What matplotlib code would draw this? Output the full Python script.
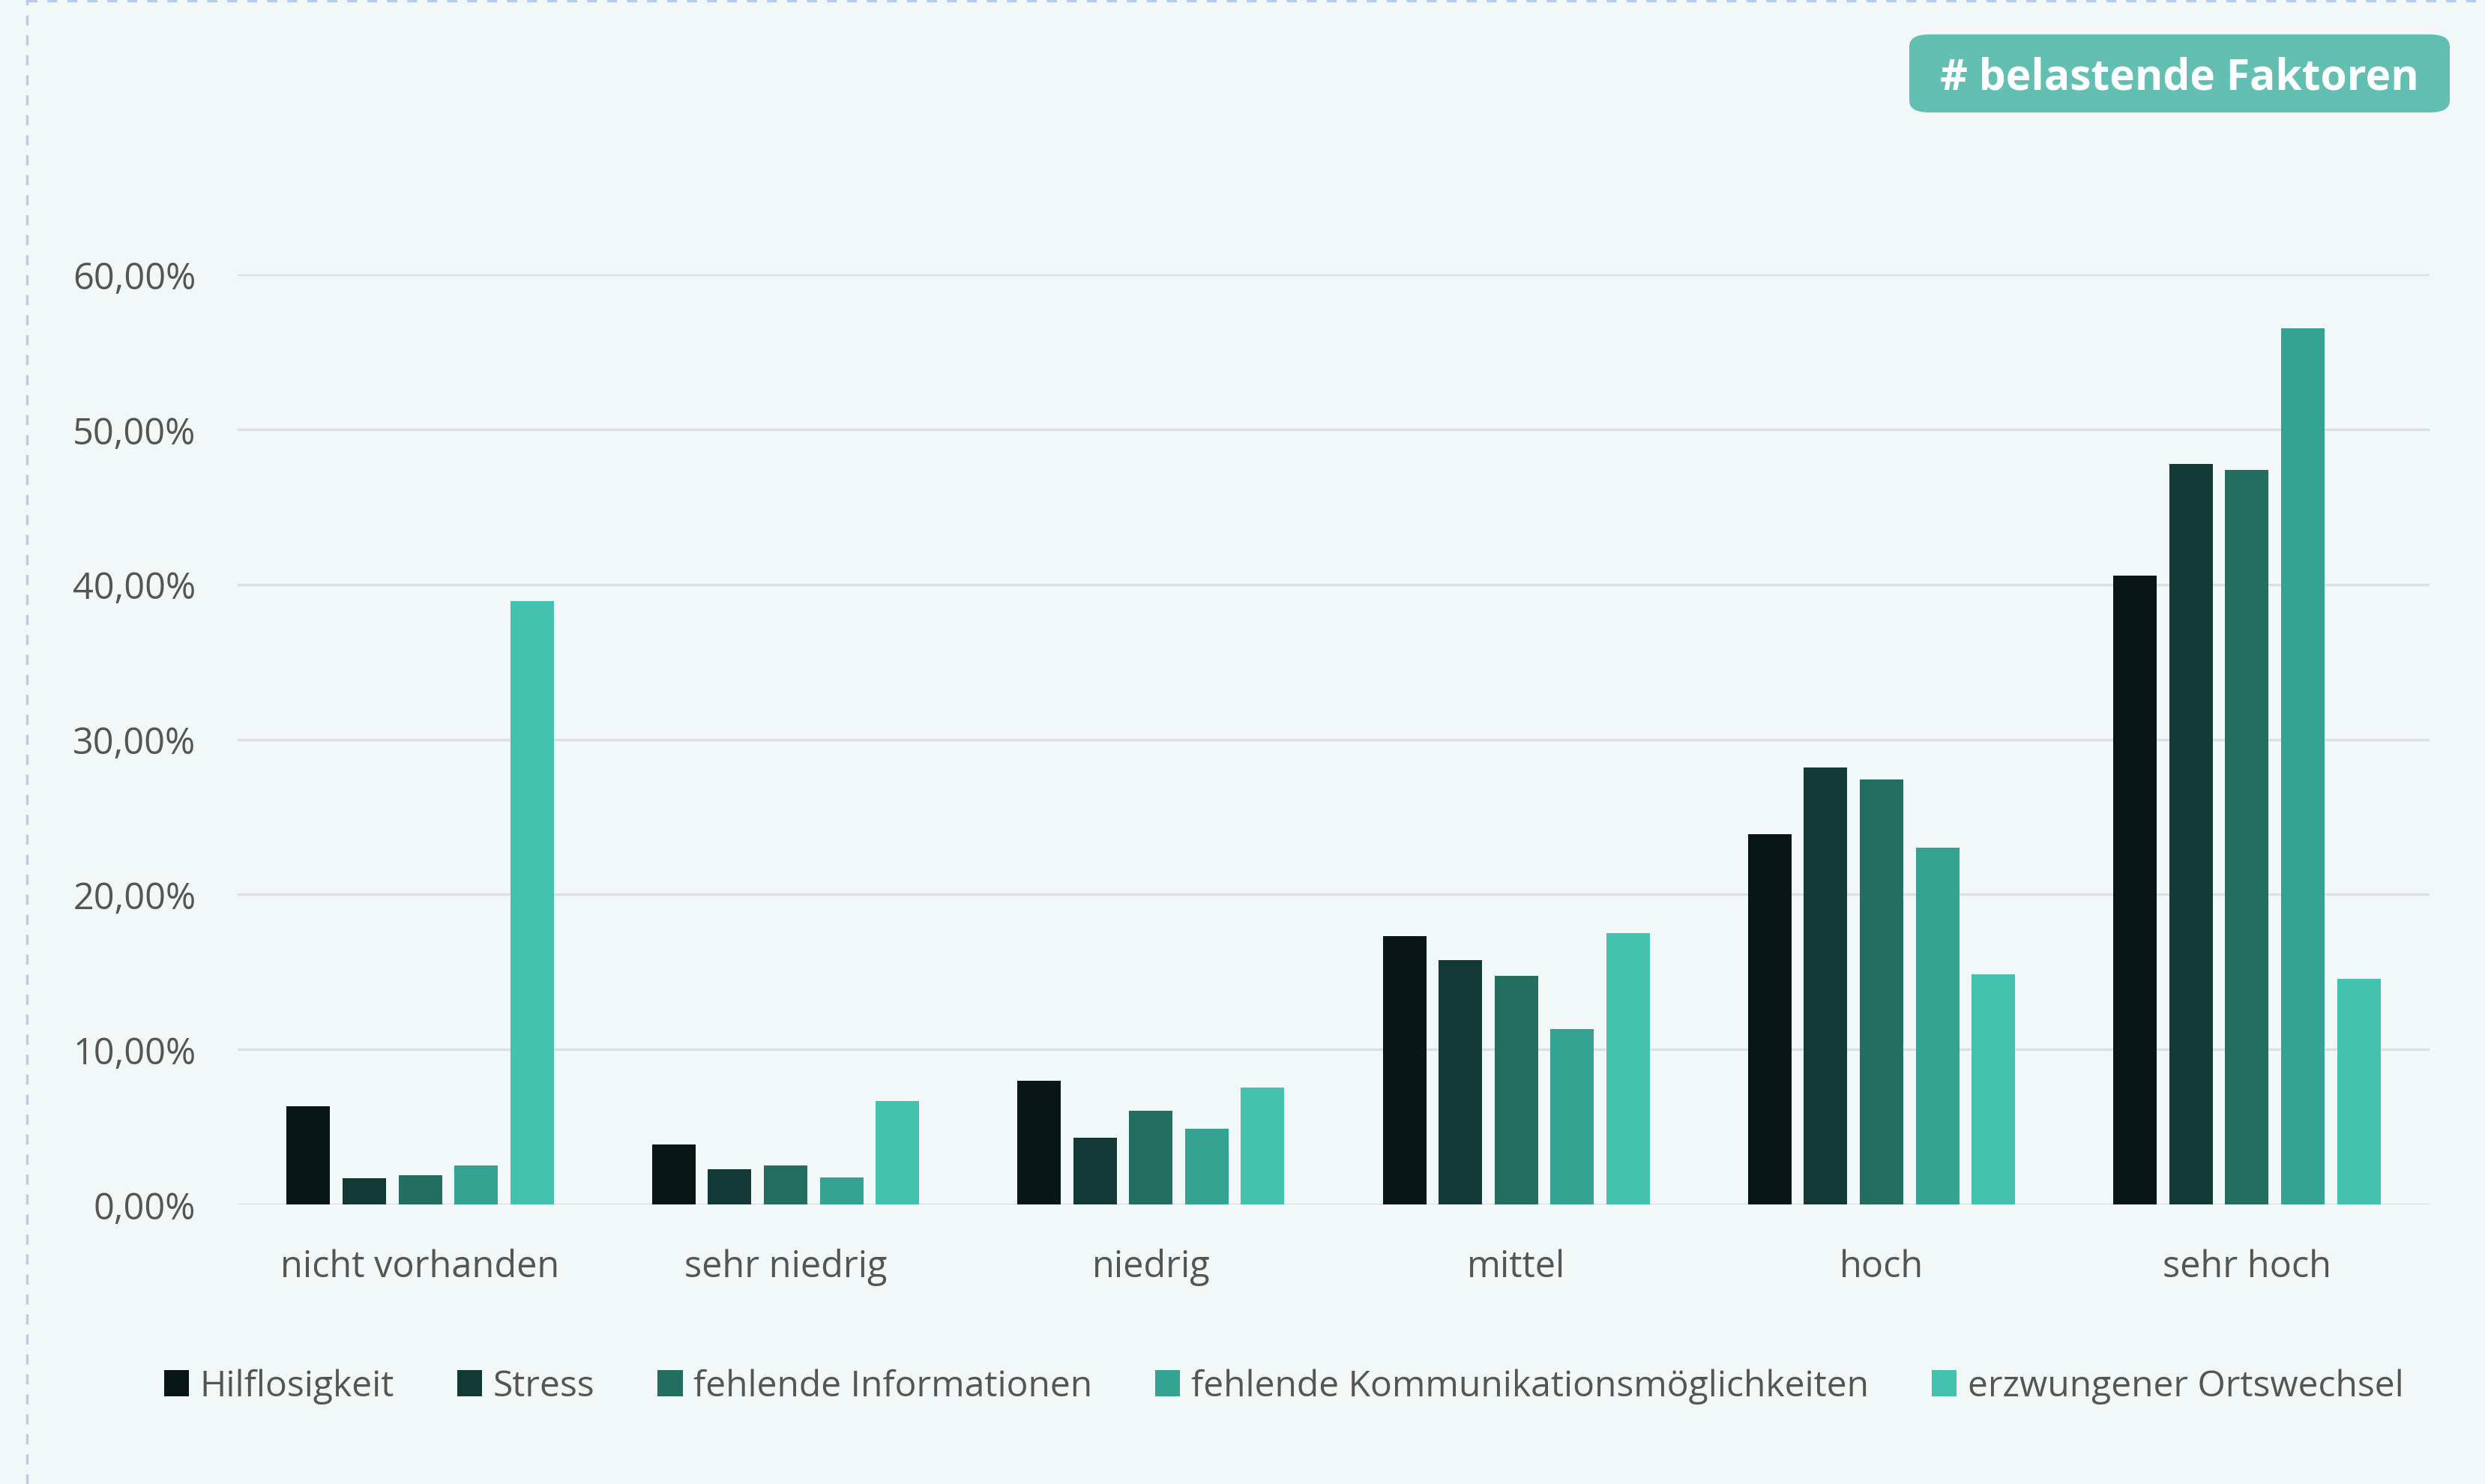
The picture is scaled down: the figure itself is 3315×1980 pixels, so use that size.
import matplotlib
matplotlib.use("Agg")
import matplotlib.pyplot as plt
import numpy as np
from matplotlib.patches import FancyBboxPatch
from matplotlib.ticker import FuncFormatter

categories = ["nicht vorhanden", "sehr niedrig", "niedrig", "mittel", "hoch", "sehr hoch"]
series = ["Hilflosigkeit", "Stress", "fehlende Informationen",
          "fehlende Kommunikationsmöglichkeiten", "erzwungener Ortswechsel"]
hilflosigkeit = [6.35, 3.86, 7.99, 17.32, 23.89, 40.58]
stress = [1.71, 2.27, 4.28, 15.78, 28.19, 47.76]
informationen = [1.89, 2.53, 6.03, 14.77, 27.41, 47.36]
kommunikation = [2.52, 1.73, 4.88, 11.33, 23.03, 56.50]
ortswechsel = [38.90, 6.66, 7.55, 17.48, 14.85, 14.55]
yticks = [0, 10, 20, 30, 40, 50, 60]

colors = ["#081714", "#133835", "#236E61", "#34A392", "#42C2AF"]
bg = "#F2F8F8"
txt = "#555555"

plt.rcParams['font.family'] = ['Open Sans', 'DejaVu Sans']

fig = plt.figure(figsize=(16.575, 9.905), dpi=200, facecolor=bg)
ax = fig.add_axes([0.0956, 0.1883, 0.8821, 0.6264], facecolor=bg)

x = np.arange(len(categories))
width = 0.119
pitch = 0.153
data = [hilflosigkeit, stress, informationen, kommunikation, ortswechsel]
for i, (vals, name) in enumerate(zip(data, series)):
    ax.bar(x + (i - 2) * pitch, vals, width, color=colors[i], label=name, zorder=3)

ax.set_xlim(-0.5, len(categories) - 0.5)
ax.set_ylim(0, 60)
ax.set_yticks(yticks)
ax.yaxis.set_major_formatter(FuncFormatter(lambda v, p: ("%.2f%%" % v).replace(".", ",")))
ax.set_xticks(x)
ax.set_xticklabels(categories)
ax.tick_params(axis='both', length=0, labelsize=17.5, labelcolor=txt)
ax.tick_params(axis='y', pad=20)
ax.tick_params(axis='x', pad=21)
ax.grid(axis='y', color="#DCDFE0", linewidth=1.2, zorder=0)
for s in ax.spines.values():
    s.set_visible(False)

fig.legend(loc='center', bbox_to_anchor=(0.5166, 0.066), ncol=5, frameon=False,
           fontsize=17.3, labelcolor=txt, handlelength=0.7, handleheight=0.75,
           handletextpad=0.3, columnspacing=1.74)

# dashed frame borders
fig.add_artist(plt.Line2D([36 / 3315, 36 / 3315], [0, 1], color="#B7CBEA",
                          linestyle=(0, (4, 4)), linewidth=1.2))
fig.add_artist(plt.Line2D([36 / 3315, 1], [0.999, 0.999], color="#B7CBEA",
                          linestyle=(0, (4, 4)), linewidth=1.2))

# badge
bx0, by0, bw, bh = 2547 / 3315, 1 - 151 / 1981, 721 / 3315, 104 / 1981
badge = FancyBboxPatch((bx0, by0), bw, bh, boxstyle="round,pad=0,rounding_size=0.008",
                       transform=fig.transFigure, facecolor="#62BFB2", edgecolor="none")
fig.add_artist(badge)
fig.text(bx0 + bw / 2, by0 + bh / 2 - 0.003, "# belastende Faktoren", color="white",
         fontsize=20.5, fontweight='bold', ha='center', va='center')

fig.savefig("out.png", dpi=200, facecolor=bg)
